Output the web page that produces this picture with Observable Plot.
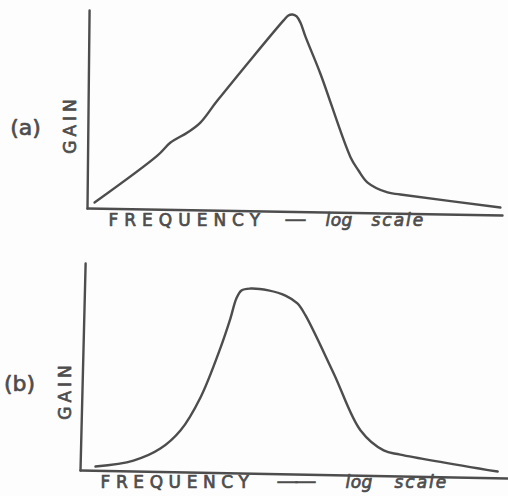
<!DOCTYPE html>
<html><head><meta charset="utf-8">
<script src="https://cdn.jsdelivr.net/npm/d3@7"></script>
<script src="https://cdn.jsdelivr.net/npm/@observablehq/plot@0.6"></script>
<style>
body{margin:0;background:#fdfdfd}
svg{display:block}
</style>
</head><body><div id="chart"></div>
<script>
// Panel (a): frequency position on log axis (0–100) vs gain (0–100)
const freqA = [1.7, 16.9, 20.0, 24.1, 27.2, 31.3, 47.2, 48.4, 49.4, 50.4, 51.3, 52.5, 56.1, 63.4, 65.3, 67.5, 72.3, 75.4, 99.5];
const gainA = [3.0, 26.8, 33.3, 38.4, 43.4, 54.5, 94.9, 97.5, 98.0, 97.0, 93.9, 86.9, 68.2, 25.8, 19.2, 13.1, 8.1, 7.1, 0.5];
// Panel (b)
const freqB = [3.5, 12.4, 18.7, 23.4, 28.1, 32.8, 35.1, 36.5, 37.7, 39.8, 44.0, 48.0, 50.8, 52.7, 59.3, 65.6, 71.0, 74.9, 97.7];
const gainB = [1.9, 4.8, 10.6, 19.3, 35.3, 59.4, 73.4, 83.1, 87.0, 87.9, 87.0, 84.5, 80.7, 74.9, 46.9, 19.3, 9.7, 7.7, -0.5];
// hand-drawn axis lines (slightly skewed)
const xAxisA = [{f: 0, g: 0}, {f: 100, g: -3.5}];
const yAxisA = [{f: 0, g: 0}, {f: 0.5, g: 100}];
const xAxisB = [{f: 0, g: 0}, {f: 100, g: -3.9}];
const yAxisB = [{f: 0, g: 0}, {f: 1.2, g: 100}];
const panelLabels = ["(a)", "(b)"];
const yLabel = "GAIN";
const xLabel = "FREQUENCY";
const xLabelDash = ["—", "——"];
const xLabelLog = "log";
const xLabelScale = "scale";

const INK = "#4d4d4d";
const FONT = "DejaVu Sans, sans-serif";

function panel(freq, gain, xAx, yAx, label, dash, cfg) {
  const pts = freq.map((f, i) => ({f, g: gain[i]}));
  const txt = {fill: INK, stroke: INK, strokeWidth: 0.7};
  const svg = Plot.plot({
    width: 508, height: cfg.height,
    marginLeft: cfg.left, marginRight: cfg.right, marginTop: cfg.top, marginBottom: cfg.bottom,
    x: {domain: [0, 100], axis: null},
    y: {domain: [0, 100], axis: null},
    style: {background: "transparent", fontFamily: FONT},
    marks: [
      Plot.line(xAx, {x: "f", y: "g", stroke: INK, strokeWidth: 2.4}),
      Plot.line(yAx, {x: "f", y: "g", stroke: INK, strokeWidth: 2.4}),
      Plot.line(pts, {x: "f", y: "g", curve: "catmull-rom", stroke: INK, strokeWidth: 2.4}),
      Plot.text([label], {...txt, frameAnchor: "left", dx: cfg.lblDx, dy: cfg.lblDy, fontSize: 22, textAnchor: "middle"}),
      Plot.text([yLabel], {...txt, frameAnchor: "left", dx: cfg.gainDx, dy: cfg.gainDy, rotate: -90, fontSize: 17, textAnchor: "middle"}),
      Plot.text([xLabel], {...txt, frameAnchor: "bottom-left", dx: cfg.fqDx, dy: cfg.fqDy, fontSize: 17, textAnchor: "start"}),
      Plot.text([dash], {...txt, frameAnchor: "bottom-left", dx: cfg.dashDx, dy: cfg.fqDy, fontSize: 22, textAnchor: "start"}),
      Plot.text([xLabelLog], {...txt, frameAnchor: "bottom-left", dx: cfg.logDx, dy: cfg.fqDy, fontSize: 17, fontStyle: "italic", textAnchor: "start"}),
      Plot.text([xLabelScale], {...txt, frameAnchor: "bottom-left", dx: cfg.scaleDx, dy: cfg.fqDy, fontSize: 17, fontStyle: "italic", textAnchor: "start"})
    ]
  });
  d3.select(svg).selectAll("text").each(function() {
    const s = d3.select(this), t = s.text();
    if (t === xLabel) s.attr("letter-spacing", cfg.fqSpacing);
    if (t === yLabel) s.attr("letter-spacing", 4);
    if (t === xLabelLog) s.attr("letter-spacing", 0.5);
    if (t === xLabelScale) s.attr("letter-spacing", 2);
    if (xLabelDash.includes(t)) s.attr("letter-spacing", -4);
  });
  return svg;
}

const root = document.getElementById("chart");
root.appendChild(panel(freqA, gainA, xAxisA, yAxisA, panelLabels[0], xLabelDash[0], {
  height: 250, left: 87, right: 6, top: 10, bottom: 42,
  lblDx: -62, lblDy: 18, gainDx: -17, gainDy: 15,
  fqDx: 21, fqDy: 17, fqSpacing: 6, dashDx: 197, logDx: 238, scaleDx: 284
}));
root.appendChild(panel(freqB, gainB, xAxisB, yAxisB, panelLabels[1], xLabelDash[1], {
  height: 246, left: 80, right: 1, top: 13, bottom: 26,
  lblDx: -61, lblDy: 16.5, gainDx: -15, gainDy: 23.5,
  fqDx: 20, fqDy: 17, fqSpacing: 5.6, dashDx: 196, logDx: 265, scaleDx: 314
}));
</script>
</body></html>
